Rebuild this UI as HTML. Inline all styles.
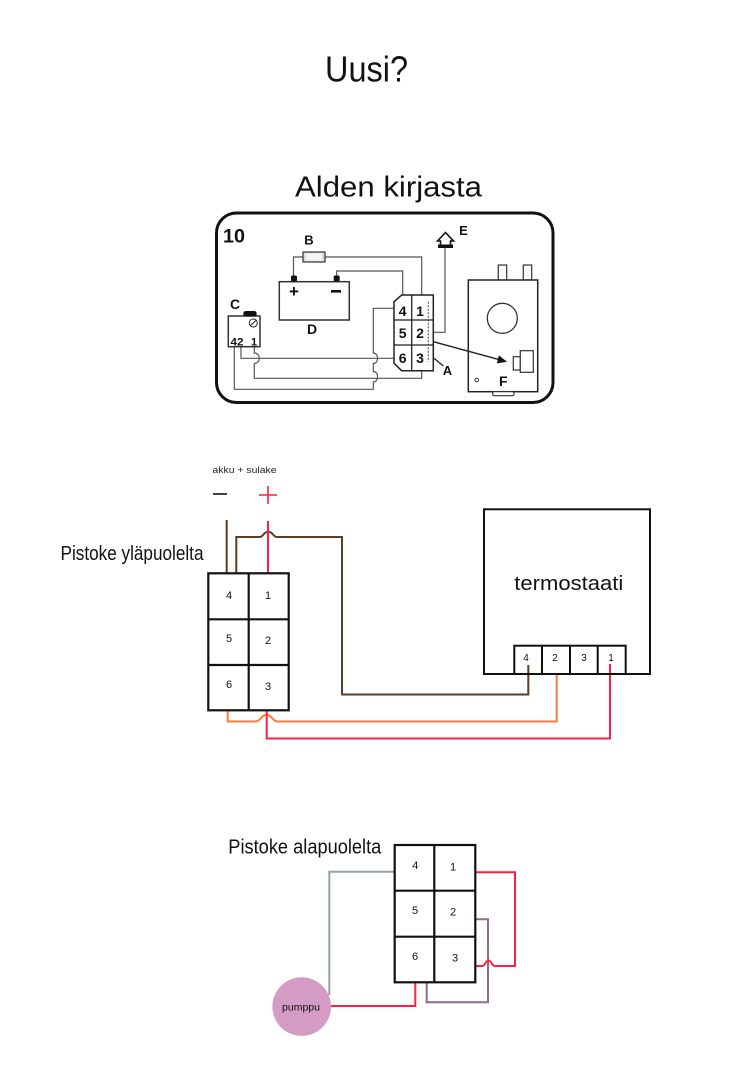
<!DOCTYPE html>
<html><head><meta charset="utf-8"><style>
html,body{margin:0;padding:0;background:#fff;}
svg{display:block;}
text{font-family:"Liberation Sans",sans-serif;}
</style></head><body>
<svg width="736" height="1080" viewBox="0 0 736 1080" xmlns="http://www.w3.org/2000/svg">
<rect width="736" height="1080" fill="#fff"/>
<!-- Titles -->
<text x="325" y="81.5" font-size="36" fill="#111" textLength="83" lengthAdjust="spacingAndGlyphs">Uusi?</text>
<text x="295" y="196.5" font-size="29" fill="#111" textLength="187" lengthAdjust="spacingAndGlyphs">Alden kirjasta</text>

<!-- Top figure -->
<rect x="216.5" y="213" width="336.5" height="189.5" rx="20" fill="none" stroke="#111" stroke-width="3"/>
<text x="223" y="242.5" font-size="19" font-weight="bold" fill="#111" textLength="22" lengthAdjust="spacingAndGlyphs">10</text>
<g fill="none" stroke="#555" stroke-width="1.2">
  <path d="M303,257 H293.5 V278"/>
  <path d="M325,257 H421.7 V295"/>
  <path d="M336.7,276 V271 H402.7 V295"/>
  <path d="M445,248 V332.3 H433.3"/>
  <path d="M234.3,346.7 V389.3 H373.3 V382 C379,382 379,371.5 373.3,371.5 V363.5 C379,363.5 379,353 373.3,353 V308.3 H394"/>
  <path d="M241,346.7 V358.3 H394"/>
  <path d="M254.3,346.7 V353 C261,353 261,363.5 254.3,363.5 V378.3 H421.7 V370.7"/>
</g>
<!-- fuse B -->
<rect x="303" y="252" width="22" height="10" fill="#ddd" stroke="#333" stroke-width="1.2"/>
<rect x="306" y="253.5" width="16" height="7" fill="#f4f4f4" stroke="none"/>
<text x="309" y="244.5" font-size="13" font-weight="bold" fill="#111" text-anchor="middle">B</text>
<!-- battery D -->
<rect x="279.3" y="281.7" width="70" height="38.3" fill="#fff" stroke="#333" stroke-width="1.5"/>
<rect x="291" y="275.5" width="6" height="6" rx="1.5" fill="#111"/>
<rect x="333.7" y="275.5" width="6" height="6" rx="1.5" fill="#111"/>
<text x="294" y="297" font-size="17" font-weight="bold" fill="#111" text-anchor="middle">+</text>
<rect x="331" y="290" width="10" height="2.6" fill="#111"/>
<text x="312" y="334" font-size="14" font-weight="bold" fill="#111" text-anchor="middle">D</text>
<!-- C box -->
<rect x="228.3" y="316" width="31.7" height="30.7" fill="#fff" stroke="#333" stroke-width="1.5"/>
<rect x="243.3" y="311" width="13.4" height="5.5" rx="2.5" fill="#111"/>
<circle cx="253.3" cy="323" r="4" fill="#fff" stroke="#333" stroke-width="1.1"/>
<line x1="250.5" y1="325.5" x2="256" y2="320.5" stroke="#333" stroke-width="1.1"/>
<text x="235" y="309" font-size="14" font-weight="bold" fill="#111" text-anchor="middle">C</text>
<text x="230.5" y="345.5" font-size="11" font-weight="bold" fill="#111" textLength="13" lengthAdjust="spacingAndGlyphs">42</text>
<text x="254" y="345.5" font-size="11" font-weight="bold" fill="#111" text-anchor="middle">1</text>
<!-- connector A -->
<path d="M401.7,295 H433.3 V370.7 H401.7 L394,363.3 V301.7 Z" fill="#fff" stroke="#222" stroke-width="1.5"/>
<line x1="411.7" y1="295" x2="411.7" y2="370.7" stroke="#222" stroke-width="1.3"/>
<line x1="394" y1="320" x2="433.3" y2="320" stroke="#222" stroke-width="1.3"/>
<line x1="394" y1="345" x2="433.3" y2="345" stroke="#222" stroke-width="1.3"/>
<line x1="428.3" y1="301.7" x2="428.3" y2="361.7" stroke="#444" stroke-width="1" stroke-dasharray="2,1.5"/>
<g font-size="14" font-weight="bold" fill="#111" text-anchor="middle">
<text x="402.7" y="316">4</text><text x="420" y="316">1</text>
<text x="402.7" y="338">5</text><text x="420" y="338">2</text>
<text x="402.7" y="363">6</text><text x="420" y="363">3</text>
</g>
<line x1="434" y1="358.3" x2="443.3" y2="366" stroke="#222" stroke-width="1.3"/>
<text x="447.5" y="375" font-size="13" font-weight="bold" fill="#111" text-anchor="middle">A</text>
<!-- E -->
<path d="M445.5,232.5 L437.5,241 H440.5 V245.5 H450.5 V241 H453.5 Z" fill="#fff" stroke="#111" stroke-width="1.6"/>
<rect x="438" y="244.5" width="15" height="3.5" fill="#111"/>
<text x="463.5" y="235" font-size="13" font-weight="bold" fill="#111" text-anchor="middle">E</text>
<!-- F thermostat -->
<rect x="498.3" y="265" width="8.4" height="15" fill="#fff" stroke="#333" stroke-width="1.2"/>
<rect x="523.3" y="265" width="8.4" height="15" fill="#fff" stroke="#333" stroke-width="1.2"/>
<rect x="468.3" y="280" width="69.4" height="111.7" fill="#fff" stroke="#222" stroke-width="1.5"/>
<circle cx="502.3" cy="318.3" r="15" fill="#fff" stroke="#333" stroke-width="1.3"/>
<rect x="513.3" y="356.7" width="7" height="13.3" fill="#fff" stroke="#333" stroke-width="1.2"/>
<rect x="520.3" y="350.7" width="13" height="21.6" fill="#fff" stroke="#333" stroke-width="1.2"/>
<circle cx="476.7" cy="380" r="1.8" fill="none" stroke="#333" stroke-width="1"/>
<text x="503.3" y="386" font-size="14" font-weight="bold" fill="#111" text-anchor="middle">F</text>
<rect x="492.7" y="391.7" width="21.3" height="4" rx="1.5" fill="#fff" stroke="#333" stroke-width="1.1"/>
<!-- arrow (drawn over F) -->
<line x1="433.3" y1="341.7" x2="499" y2="359.6" stroke="#222" stroke-width="1.4"/>
<polygon points="507,361.8 496.8,363.4 498.9,355.4" fill="#111"/>

<!-- Middle section -->
<text x="212.5" y="473" font-size="9.5" fill="#222" textLength="64" lengthAdjust="spacingAndGlyphs">akku + sulake</text>
<line x1="213" y1="494" x2="227" y2="494" stroke="#111" stroke-width="1.6"/>
<line x1="259" y1="495" x2="277" y2="495" stroke="#ff1f44" stroke-width="1.6"/>
<line x1="268" y1="486" x2="268" y2="504" stroke="#ff1f44" stroke-width="1.6"/>
<text x="60.5" y="560" font-size="20" fill="#111" textLength="143" lengthAdjust="spacingAndGlyphs">Pistoke yläpuolelta</text>

<g fill="none" stroke-width="2">
  <path d="M226.7,520 V573.3" stroke="#5c3d23"/>
  <path d="M236.3,573.3 V537 H259.5 C263.5,537 263.5,531.8 268.3,531.8 C273.1,531.8 273.1,537 277,537 H342 V694.5 H528.3 V665" stroke="#5c3d23"/>
  <path d="M268,521 V573.3" stroke="#ff1f44"/>
  <path d="M227.7,710.3 V721.5 H255 C260.5,721.5 261,715 266.5,715 C272,715 272.5,721.5 278,721.5 H556.7 V674" stroke="#ff7a3d"/>
  <path d="M266.7,710.3 V738.5 H610 V664" stroke="#ff1f44"/>
</g>
<!-- top connector -->
<g fill="none" stroke="#111" stroke-width="2.2">
  <rect x="208.3" y="573.3" width="80.4" height="137"/>
  <line x1="248.7" y1="573.3" x2="248.7" y2="710.3"/>
  <line x1="208.3" y1="619.3" x2="288.7" y2="619.3"/>
  <line x1="208.3" y1="665" x2="288.7" y2="665"/>
</g>
<g font-size="11" fill="#111" text-anchor="middle">
<text x="229" y="599">4</text><text x="268" y="599">1</text>
<text x="229" y="642">5</text><text x="268" y="644">2</text>
<text x="229" y="688">6</text><text x="268" y="690">3</text>
</g>
<!-- termostaati -->
<rect x="484" y="509.3" width="166" height="164.7" fill="none" stroke="#111" stroke-width="2"/>
<text x="514.3" y="590" font-size="20" fill="#111" textLength="109" lengthAdjust="spacingAndGlyphs">termostaati</text>
<g fill="none" stroke="#111" stroke-width="2">
  <rect x="514.3" y="645.7" width="111.4" height="28.3"/>
  <line x1="542" y1="645.7" x2="542" y2="674"/>
  <line x1="570" y1="645.7" x2="570" y2="674"/>
  <line x1="597.7" y1="645.7" x2="597.7" y2="674"/>
</g>
<g font-size="10" fill="#111" text-anchor="middle">
<text x="526" y="661">4</text><text x="555" y="661">2</text><text x="584" y="661">3</text><text x="611" y="661">1</text>
</g>

<!-- Bottom section -->
<text x="228.3" y="853.5" font-size="20" fill="#111" textLength="153" lengthAdjust="spacingAndGlyphs">Pistoke alapuolelta</text>
<g fill="none" stroke-width="2">
  <path d="M394.7,871.7 H329.3 V995" stroke="#93a5a3"/>
  <path d="M330.3,1006 H415.3 V982.3" stroke="#ff1f44"/>
  <path d="M426.7,982.3 V1002.3 H488 V919.3 H475.3" stroke="#8e6a8e"/>
  <path d="M475.3,872.3 H515 V966 H495 C491.5,966 491.5,960.5 488.5,960.5 C485.5,960.5 485.5,966 482,966 H475.3" stroke="#ff1f44"/>
</g>
<circle cx="301.7" cy="1006.6" r="29.3" fill="#d49cc4"/>
<text x="301" y="1010.5" font-size="10.5" fill="#111" text-anchor="middle">pumppu</text>
<g fill="none" stroke="#111" stroke-width="2.2">
  <rect x="394.7" y="845" width="80.6" height="137.3"/>
  <line x1="434.3" y1="845" x2="434.3" y2="982.3"/>
  <line x1="394.7" y1="890.7" x2="475.3" y2="890.7"/>
  <line x1="394.7" y1="936.7" x2="475.3" y2="936.7"/>
</g>
<g font-size="11" fill="#111" text-anchor="middle">
<text x="415.3" y="869">4</text><text x="453" y="870.5">1</text>
<text x="415" y="914">5</text><text x="453" y="915.5">2</text>
<text x="415" y="960">6</text><text x="455" y="961.5">3</text>
</g>
</svg>
</body></html>
